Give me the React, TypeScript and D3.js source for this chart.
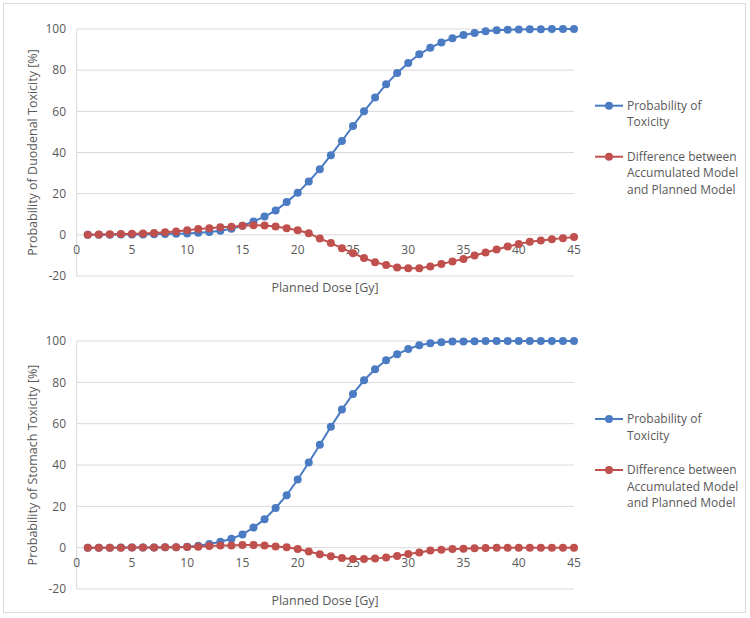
import React from "react";
import * as d3 from "d3";

const doses: number[] = d3.range(1, 46);

const duodenalProb: number[] = [
  0.05, 0.07, 0.09, 0.12, 0.15, 0.2, 0.27, 0.37, 0.5, 0.7, 1.0, 1.4, 2.0, 3.0, 4.4,
  6.5, 8.9, 11.8, 15.9, 20.4, 25.9, 31.9, 38.7, 45.6, 52.9, 60.0, 66.7, 73.1, 78.6, 83.5,
  87.7, 90.9, 93.5, 95.5, 97.1, 98.1, 98.9, 99.4, 99.6, 99.8, 99.9, 99.9, 100, 100, 100,
];
const duodenalDiff: number[] = [
  0.1, 0.2, 0.3, 0.4, 0.5, 0.7, 0.9, 1.2, 1.6, 2.2, 2.8, 3.2, 3.7, 3.9, 4.4,
  4.7, 4.5, 4.0, 3.2, 2.2, 0.8, -1.8, -4.0, -6.5, -8.9, -11.3, -13.3, -14.6, -15.9, -16.2,
  -16.2, -15.4, -14.2, -12.9, -11.7, -10.0, -8.6, -7.1, -5.7, -4.5, -3.4, -2.8, -2.1, -1.6, -1.1,
];
const stomachProb: number[] = [
  0.01, 0.01, 0.02, 0.03, 0.04, 0.06, 0.1, 0.15, 0.25, 0.45, 0.9, 1.8, 2.9, 4.3, 6.4,
  9.7, 13.8, 19.2, 25.4, 33.0, 41.2, 49.8, 58.5, 66.8, 74.4, 81.0, 86.3, 90.7, 93.6, 96.1,
  97.9, 98.9, 99.4, 99.7, 99.8, 99.9, 100, 100, 100, 100, 100, 100, 100, 100, 100,
];
const stomachDiff: number[] = [
  0.0, 0.0, 0.0, 0.0, 0.05, 0.1, 0.1, 0.15, 0.2, 0.3, 0.5, 0.8, 1.0, 1.1, 1.3,
  1.3, 1.0, 0.6, 0.2, -0.6, -1.9, -3.2, -4.2, -5.0, -5.5, -5.5, -5.3, -4.7, -4.0, -3.1,
  -2.3, -1.4, -1.0, -0.6, -0.5, -0.3, -0.2, -0.1, -0.1, -0.1, 0, 0, 0, 0, 0,
];

const xTicks: number[] = [0, 5, 10, 15, 20, 25, 30, 35, 40, 45];
const yTicks: number[] = [-20, 0, 20, 40, 60, 80, 100];
const seriesNames: string[][] = [
  ["Probability of", "Toxicity"],
  ["Difference between", "Accumulated Model", "and Planned Model"],
];
const panelTitles: string[] = [
  "Probability of Duodenal Toxicity [%]",
  "Probability of Stomach Toxicity [%]",
];
const xTitle = "Planned Dose [Gy]";

const BLUE = "#4A7BC3";
const RED = "#C0504D";
const TEXT = "#595959";
const GRID = "#D9D9D9";
const FONT = "'Open Sans', 'Noto Sans', sans-serif";

type PanelProps = {
  top: number;
  bottom: number;
  title: string;
  prob: number[];
  diff: number[];
  legendY: number;
};

function Panel({ top, bottom, title, prob, diff, legendY }: PanelProps) {
  const x = d3.scaleLinear().domain([0, 45]).range([76.7, 574]);
  const y = d3.scaleLinear().domain([-20, 100]).range([bottom, top]);
  const line = d3
    .line<number>()
    .x((_, i) => x(doses[i]))
    .y((d) => y(d));
  const series = [
    { data: prob, color: BLUE },
    { data: diff, color: RED },
  ];
  const y0 = y(0);
  return (
    <g>
      {yTicks.map((t) => (
        <g key={t}>
          <line x1={x(0)} x2={x(45)} y1={y(t)} y2={y(t)} stroke={GRID} strokeWidth={1} />
          <text x={66} y={y(t)} dy="0.35em" textAnchor="end" fontSize={12} fill={TEXT}>
            {t}
          </text>
        </g>
      ))}
      <line x1={x(0)} x2={x(0)} y1={y(100)} y2={y(-20)} stroke={GRID} strokeWidth={1} />
      {xTicks.map((t) => (
        <text key={t} x={x(t)} y={y0 + 15} dy="0.35em" textAnchor="middle" fontSize={12} fill={TEXT}>
          {t}
        </text>
      ))}
      {series.map((s, si) => (
        <g key={si}>
          <path d={line(s.data) || ""} fill="none" stroke={s.color} strokeWidth={2} />
          {s.data.map((v, i) => (
            <circle key={i} cx={x(doses[i])} cy={y(v)} r={4} fill={s.color} />
          ))}
        </g>
      ))}
      <text
        transform={`translate(33,${(top + bottom) / 2}) rotate(-90)`}
        textAnchor="middle"
        dy="0.35em"
        fontSize={12.5}
        fill={TEXT}
      >
        {title}
      </text>
      <text x={325} y={bottom + 12} dy="0.35em" textAnchor="middle" fontSize={12.5} fill={TEXT}>
        {xTitle}
      </text>
      {seriesNames.map((lines, si) => {
        const ly = legendY + si * 51;
        const color = si === 0 ? BLUE : RED;
        return (
          <g key={si}>
            <line x1={595} x2={623} y1={ly} y2={ly} stroke={color} strokeWidth={2} />
            <circle cx={609} cy={ly} r={4} fill={color} />
            {lines.map((l, li) => (
              <text key={li} x={627} y={ly + li * 16.4} dy="0.35em" fontSize={12} fill={TEXT}>
                {l}
              </text>
            ))}
          </g>
        );
      })}
    </g>
  );
}

export default function App() {
  return (
    <svg
      width={750}
      height={618}
      style={{ position: "absolute", left: 0, top: 0, background: "#fff" }}
      fontFamily={FONT}
    >
      <rect x={0} y={0} width={750} height={618} fill="#fff" />
      <rect x={3.5} y={3.5} width={742} height={609} fill="#fff" stroke="#D9D9D9" strokeWidth={1} />
      <Panel top={29} bottom={276} title={panelTitles[0]} prob={duodenalProb} diff={duodenalDiff} legendY={105.7} />
      <Panel top={341} bottom={589} title={panelTitles[1]} prob={stomachProb} diff={stomachDiff} legendY={419} />
    </svg>
  );
}
